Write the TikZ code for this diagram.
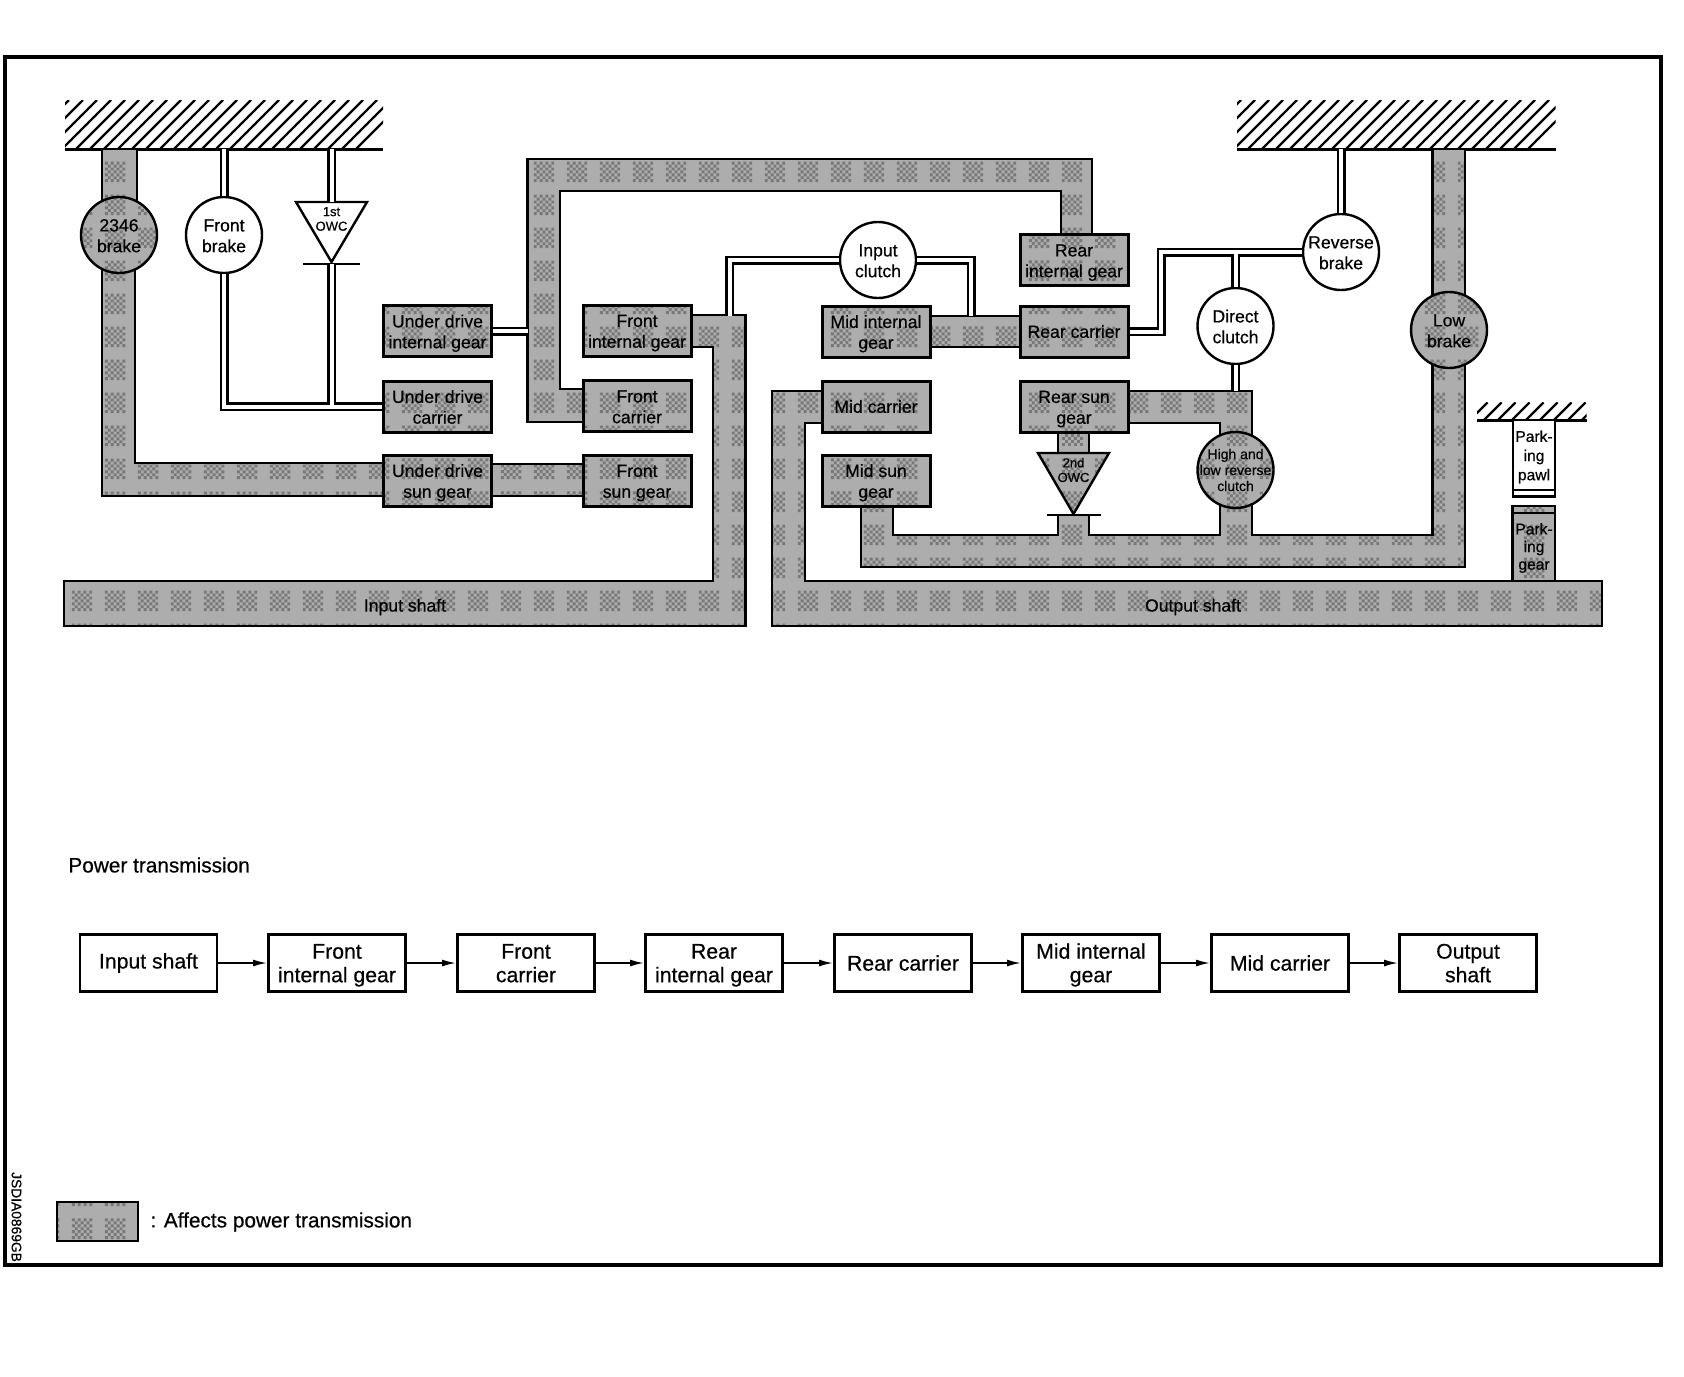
\documentclass[tikz,border=0pt]{standalone}
\usepackage{fontspec}
\setmainfont{Liberation Sans}[FakeBold=0.5]
\usetikzlibrary{arrows.meta,calc,patterns}
\definecolor{tonebg}{gray}{0.68}
\definecolor{tonefg}{gray}{0.47}
\pgfdeclarepatternformonly{halft}{\pgfpointorigin}{\pgfqpoint{16.5pt}{16.5pt}}{\pgfqpoint{16.5pt}{16.5pt}}{%
  \foreach \i in {2,...,8}{\foreach \j in {2,...,8}{%
      \ifodd\numexpr\i+\j\relax\else
        \pgfpathrectangle{\pgfpoint{\i*1.5pt}{\j*1.5pt}}{\pgfqpoint{1.5pt}{1.5pt}}\pgfusepath{fill}%
      \fi
  }}%
}
\newcommand{\fsz}[2]{\fontsize{#1}{#2}\selectfont}
\newcommand{\tl}[2]{\rule{0pt}{9pt}#1\\#2\rule[-2.2pt]{0pt}{2.2pt}}
\newcommand{\tlf}[2]{\rule{0pt}{9.6pt}#1\\#2\rule[-2.2pt]{0pt}{2.2pt}}
\tikzset{
  tone/.style={preaction={fill=tonebg},pattern=halft,pattern color=tonefg},
  pipe/.style={draw=black,tone,line width=1.4pt,line join=miter},
  lab/.style={align=center,inner sep=0pt,font=\fsz{8.8}{10.4}},
  gbox/.style={draw=black,tone,line width=1.5pt,minimum width=54pt,minimum height=25.5pt,inner sep=0pt,align=center,font=\fsz{8.8}{10.4}},
  wcirc/.style={circle,draw=black,fill=white,line width=1.2pt,minimum size=38pt,inner sep=-2pt,align=center,font=\fsz{8.8}{10.4}},
  gcirc/.style={wcirc,fill=none,tone},
  dbl/.style={double=white,draw=black,line width=1.25pt,double distance=2pt},
  fbox/.style={draw=black,fill=white,line width=1.3pt,minimum width=68.5pt,minimum height=28.5pt,inner sep=0pt,align=center,font=\fsz{10.6}{11.8}},
  flow/.style={draw=black,line width=0.9pt,-{Latex[length=7pt,width=3.4pt]}},
  hatch/.style={draw=black,line width=1.2pt},
  gline/.style={draw=black,line width=1.5pt},
}
\begin{document}
\begin{tikzpicture}[x=0.5pt,y=-0.5pt]
\useasboundingbox (0,0) rectangle (1684,1376);
\draw[line width=2pt] (5,57) rectangle (1661,1265);

% ground hatches
\begin{scope}
\clip (65,100) rectangle (383,149);
\foreach \k in {0,...,24} \draw[hatch] ({20+\k*14},149) -- ({69+\k*14},100);
\end{scope}
\draw[gline] (65,149) -- (383,149);
\begin{scope}
\clip (1237,100) rectangle (1555.5,149);
\foreach \k in {0,...,24} \draw[hatch] ({1192+\k*14},149) -- ({1241+\k*14},100);
\end{scope}
\draw[gline] (1237,149) -- (1555.5,149);
\begin{scope}
\clip (1477,402.5) rectangle (1586.5,420);
\foreach \k in {0,...,9} \draw[hatch] ({1470+\k*14},420) -- ({1487.5+\k*14},402.5);
\end{scope}
\draw[gline] (1477,420) -- (1586.5,420);

% pipes
\draw[pipe] (102,149) -- (137,149) -- (137,240) -- (135,240) -- (135,463) -- (400,463) -- (400,496) -- (102,496) -- cycle;
\draw[pipe] (480,464) rectangle (600,496);
\draw[pipe] (527.5,159) -- (1092,159) -- (1092,240) -- (1061,240) -- (1061,191) -- (560,191) -- (560,389) -- (600,389) -- (600,422) -- (527.5,422) -- cycle;
\draw[pipe] (680,315) -- (745.7,315) -- (745.7,626) -- (64,626) -- (64,581) -- (713,581) -- (713,347) -- (680,347) -- cycle;
\draw[pipe] (1512.6,506) rectangle (1555,590);
\draw[gline,line width=1pt] (1512.6,513) -- (1555,513);
\draw[pipe] (830,391) -- (772,391) -- (772,626) -- (1602,626) -- (1602,581) -- (805,581) -- (805,423) -- (830,423) -- cycle;
\draw[pipe] (920,316) rectangle (1030,347);
\draw[pipe] (1110,391) -- (1252,391) -- (1252,480) -- (1220,480) -- (1220,423) -- (1110,423) -- cycle;
\draw[pipe] (861,490) -- (893,490) -- (893,535) -- (1058,535) -- (1058,515) -- (1089,515) -- (1089,535) -- (1220,535) -- (1220,480) -- (1252,480) -- (1252,535) -- (1432.6,535) -- (1432.6,149) -- (1465,149) -- (1465,567) -- (861,567) -- cycle;
\draw[pipe] (1058,425) rectangle (1089,460);

% boxes
\node[gbox] (udig) at (437.5,331) {\tl{Under drive}{internal gear}};
\node[gbox] (udc) at (437.5,406.5) {\tl{Under drive}{carrier}};
\node[gbox] (uds) at (437.5,480.5) {\tl{Under drive}{sun gear}};
\node[gbox] (fig) at (637,330.5) {\tl{Front}{internal gear}};
\node[gbox] (fc) at (637,406) {\tl{Front}{carrier}};
\node[gbox] (fs) at (637,480.5) {\tl{Front}{sun gear}};
\node[gbox] (mig) at (876,331.5) {\tl{Mid internal}{gear}};
\node[gbox] (mc) at (876,406.5) {Mid carrier};
\node[gbox] (ms) at (876,480.5) {\tl{Mid sun}{gear}};
\node[gbox] (rig) at (1074,260) {\tl{Rear}{internal gear}};
\node[gbox] (rc) at (1074,331.5) {Rear carrier};
\node[gbox] (rs) at (1074,406.5) {\tl{Rear sun}{gear}};

% circles
\node[gcirc] (b2346) at (119,235) {\tl{2346}{brake}};
\node[wcirc] (fb) at (224,235) {\tl{Front}{brake}};
\node[wcirc] (ic) at (878,260) {\tl{Input}{clutch}};
\node[wcirc] (dc) at (1235.5,326) {\tl{Direct}{clutch}};
\node[wcirc] (rb) at (1341,252) {\tl{Reverse}{brake}};
\node[gcirc] (lb) at (1449,330) {\tl{Low}{brake}};
\node[gcirc] (hl) at (1235.5,470) {};
\node[lab,font=\fsz{7}{8}] (hlt) at (hl) {High and\\low reverse\\clutch};

% ground and junction points
\coordinate (g1) at (64,149);
\coordinate (g2) at (1237,149);
\coordinate (big) at (527.5,331);
\coordinate (ifeed) at (729.5,316);
\coordinate (mfeed) at (971,316);
\coordinate (rk) at (1161,290);
\coordinate (rtop) at (1235.5,391);

% first one-way clutch
\coordinate (o1a) at (296,202);
\coordinate (o1b) at (367,202);
\coordinate (o1c) at (331.5,262);
\draw[draw=black,fill=white,line width=1.2pt] (o1a) -- (o1b) -- (o1c) -- cycle;
\node[lab,font=\fsz{6.5}{7.3}] (o1t) at (331.5,219) {1st\\OWC};
\coordinate (o1l) at (303,264);
\coordinate (o1r) at (360,264);
\draw[gline,line width=1.2pt] (o1l) -- (o1r);

% second one-way clutch
\coordinate (o2a) at (1038,453);
\coordinate (o2b) at (1109,453);
\coordinate (o2c) at (1073.5,514);
\draw[draw=black,tone,line width=1.2pt] (o2a) -- (o2b) -- (o2c) -- cycle;
\node[lab,font=\fsz{6.5}{7.3}] (o2t) at (1073.5,470) {2nd\\OWC};
\coordinate (o2l) at (1046.5,515);
\coordinate (o2r) at (1101,515);
\draw[gline,line width=1.2pt] (o2l) -- (o2r);

% double lines
\draw[dbl] (fb.north) -- (fb.north |- g1);
\draw[dbl] (fb.south) |- (udc.west);
\draw[dbl] (o1c |- g1) -- (o1c |- o1a);
\draw[dbl] (o1c |- o1l) -- ($(o1c |- udc.west)+(0,-2)$);
\draw[dbl] (udig.east) -- (udig.east -| big);
\draw[dbl] (ic.west) -| (ifeed);
\draw[dbl] (ic.east) -| (mfeed);
\draw[dbl] (rb.west) -| (rk) |- (rc.east);
\draw[dbl] (rb.north) -- (rb.north |- g2);
\draw[dbl] (dc.north) -- ($(dc.north |- rb.west)+(0,2)$);
\draw[dbl] (dc.south) -- (rtop);

% shafts and parking
\node[lab] (ishaft) at (405,607) {Input shaft};
\node[lab] (oshaft) at (1193,607) {Output shaft};
\node[draw=black,fill=white,line width=1.4pt,minimum width=21pt,minimum height=38.2pt,inner sep=0pt] (pawl) at (1534,458.2) {};
\draw[gline,line width=1pt] (pawl.west |- 0,490) -- (pawl.east |- 0,490);
\node[lab,font=\fsz{7.8}{9.6}] (pawlt) at (1534,457) {Park-\\ing\\pawl};
\node[lab,font=\fsz{7.8}{8.8}] (geart) at (1534,548) {Park-\\ing\\gear};

% power transmission row
\node[lab,anchor=west,font=\fsz{10.4}{12}] (title) at (68,865) {Power transmission};
\node[fbox] (f1) at (148.5,963) {Input shaft};
\node[fbox] (f2) at (337,963) {\tlf{Front}{internal gear}};
\node[fbox] (f3) at (526,963) {\tlf{Front}{carrier}};
\node[fbox] (f4) at (714,963) {\tlf{Rear}{internal gear}};
\node[fbox] (f5) at (903,963) {Rear carrier};
\node[fbox] (f6) at (1091,963) {\tlf{Mid internal}{gear}};
\node[fbox] (f7) at (1280,963) {Mid carrier};
\node[fbox] (f8) at (1468,963) {\tlf{Output}{shaft}};
\foreach \a/\b in {f1/f2,f2/f3,f3/f4,f4/f5,f5/f6,f6/f7,f7/f8} \draw[flow] (\a) -- (\b);

% legend
\node[draw=black,tone,line width=1pt,minimum width=40.5pt,minimum height=19.5pt,inner sep=0pt] (leg) at (97.5,1221.5) {};
\node[lab,anchor=west,font=\fsz{10.4}{12}] (legt) at (150,1222) {: Affects power transmission};
\node[lab,rotate=-90,font=\fsz{6.9}{8}] (code) at (16.5,1217) {JSDIA0869GB};
\end{tikzpicture}
\end{document}
